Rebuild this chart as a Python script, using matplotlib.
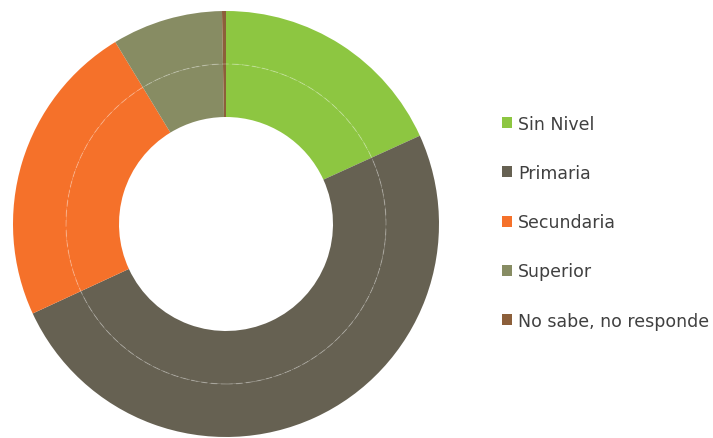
import matplotlib
matplotlib.use('Agg')
import matplotlib.pyplot as plt
from matplotlib.patches import Circle

# datos (porcentajes)
categorias = ['Sin Nivel', 'Primaria', 'Secundaria', 'Superior', 'No sabe, no responde']
valores = [18.2, 49.9, 23.2, 8.4, 0.3]
colores = ['#8DC641', '#666152', '#F5712A', '#878C63', '#8C5F3A']

plt.rcParams['font.family'] = ['DejaVu Sans']

W, H = 713, 439
fig = plt.figure(figsize=(W / 100, H / 100), dpi=100)
cx, cy, R = 226, 439 - 225, 213
ax = fig.add_axes([(cx - R) / W, (cy - R) / H, 2 * R / W, 2 * R / H])

r_mid = 160 / R
ancho = 53 / R
props = dict(width=ancho, linewidth=0, antialiased=True)

# anillo exterior
ax.pie(valores, radius=1.0, colors=colores, startangle=90, counterclock=False,
       wedgeprops=props)
# anillo interior
cunas, _ = ax.pie(valores, radius=r_mid, colors=colores, startangle=90, counterclock=False,
                  wedgeprops=props)

# linea tenue entre anillos
ax.add_patch(Circle((0, 0), r_mid, fill=False, edgecolor='white', alpha=0.25,
                    linewidth=0.8, linestyle=(0, (6, 3))))

ax.set_xlim(-1, 1)
ax.set_ylim(-1, 1)
ax.set_aspect('equal')
ax.axis('off')

leg = fig.legend(cunas, categorias, loc='upper left', bbox_to_anchor=(493 / W, 1 - 107 / H),
                 frameon=False, fontsize=12.5, handlelength=0.6, handleheight=0.6,
                 handletextpad=0.35, labelspacing=1.8, borderpad=0)
for t in leg.get_texts():
    t.set_color('#404040')

fig.savefig('out.png', dpi=100)
